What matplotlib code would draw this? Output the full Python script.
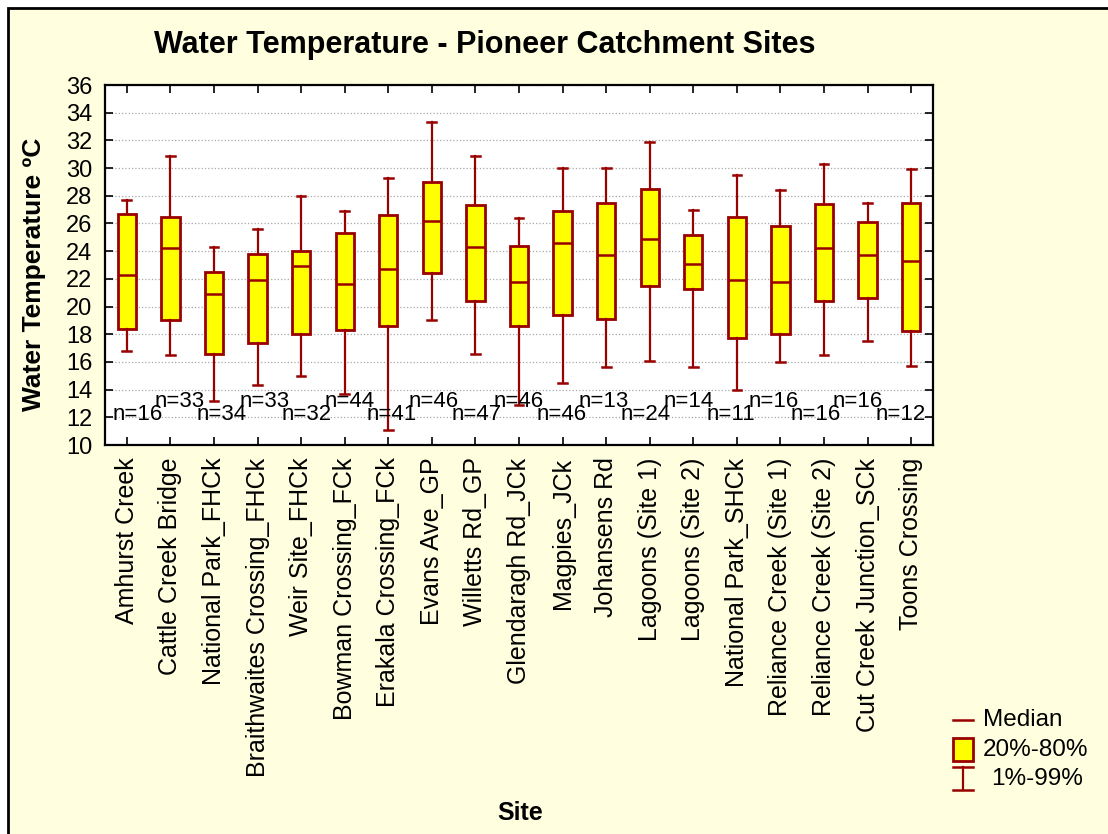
import matplotlib
matplotlib.use('Agg')
import matplotlib.pyplot as plt
from matplotlib.lines import Line2D
from matplotlib.patches import Rectangle

# Sites along the x axis
SITES = [
  'Amhurst Creek', 'Cattle Creek Bridge', 'National Park_FHCk',
  'Braithwaites Crossing_FHCk', 'Weir Site_FHCk', 'Bowman Crossing_FCk',
  'Erakala Crossing_FCk', 'Evans Ave_GP', 'Willetts Rd_GP',
  'Glendaragh Rd_JCk', 'Magpies_JCk', 'Johansens Rd', 'Lagoons (Site 1)',
  'Lagoons (Site 2)', 'National Park_SHCk', 'Reliance Creek (Site 1)',
  'Reliance Creek (Site 2)', 'Cut Creek Junction_SCk', 'Toons Crossing',
]

# Percentiles (deg C)
P01 = [16.8, 16.5, 13.2, 14.3, 15.0, 13.7, 11.1, 19.0, 16.6, 12.9,
       14.5, 15.6, 16.1, 15.6, 14.0, 16.0, 16.5, 17.5, 15.7]
P20 = [18.4, 19.0, 16.6, 17.4, 18.0, 18.3, 18.6, 22.4, 20.4, 18.6,
       19.4, 19.1, 21.5, 21.3, 17.7, 18.0, 20.4, 20.6, 18.2]
MEDIAN = [22.3, 24.2, 20.9, 21.9, 22.9, 21.6, 22.7, 26.2, 24.3, 21.8,
          24.6, 23.7, 24.9, 23.1, 21.9, 21.8, 24.2, 23.7, 23.3]
P80 = [26.7, 26.5, 22.5, 23.8, 24.0, 25.3, 26.6, 29.0, 27.3, 24.4,
       26.9, 27.5, 28.5, 25.2, 26.5, 25.8, 27.4, 26.1, 27.5]
P99 = [27.7, 30.9, 24.3, 25.6, 28.0, 26.9, 29.3, 33.3, 30.9, 26.4,
       30.0, 30.0, 31.9, 27.0, 29.5, 28.4, 30.3, 27.5, 29.9]

# Sample counts per site
N_COUNTS = [16, 33, 34, 33, 32, 44, 41, 46, 47, 46, 46, 13, 24, 14, 11, 16, 16, 16, 12]

Y_TICKS = list(range(10, 37, 2))

DARK_RED = '#990000'
CREAM = '#ffffe0'

plt.rcParams['font.family'] = ['Liberation Sans', 'DejaVu Sans']

W, H = 1108, 834
fig = plt.figure(figsize=(W / 100, H / 100), dpi=100, facecolor='white')

# cream panel with a black frame (cut off at right/bottom)
fig.add_artist(Rectangle((8 / W, -0.1), 1.2, 1 - 8 / H + 0.1, transform=fig.transFigure,
                         facecolor=CREAM, edgecolor='black', linewidth=2, zorder=0))

ax = fig.add_axes([105 / W, 1 - 445 / H, (933 - 105) / W, (445 - 85) / H])
ax.set_facecolor('white')

stats = []
for i in range(len(SITES)):
  stats.append({
    'med': MEDIAN[i], 'q1': P20[i], 'q3': P80[i],
    'whislo': P01[i], 'whishi': P99[i], 'fliers': [],
  })

pos = list(range(len(SITES)))
ax.bxp(stats, positions=pos, widths=0.42, patch_artist=True, showfliers=False,
       capwidths=0.2,
       boxprops=dict(facecolor='#ffff00', edgecolor=DARK_RED, linewidth=2),
       medianprops=dict(color=DARK_RED, linewidth=1.8),
       whiskerprops=dict(color=DARK_RED, linewidth=1.6),
       capprops=dict(color=DARK_RED, linewidth=1.8),
       zorder=3)

# n= labels, staggered on two levels
for i, n in enumerate(N_COUNTS):
  y = 13.15 if i % 2 else 12.2
  ax.text(i + 0.24 - 0.027 * i, y, 'n=' + str(n), ha='center', va='center',
          fontsize=16, zorder=4)

ax.set_xlim(-0.5, len(SITES) - 0.5)
ax.set_ylim(10, 36)
ax.set_yticks(Y_TICKS)
ax.set_xticks(pos)
ax.set_xticklabels(SITES, rotation=90, fontsize=18)
ax.tick_params(axis='y', labelsize=17)
ax.tick_params(direction='in', top=True, right=True, length=6, width=1.2, pad=9)
ax.yaxis.grid(True, linestyle=':', color='#a8a8a8', linewidth=0.9)
ax.set_axisbelow(True)
for sp in ax.spines.values():
  sp.set_linewidth(1.6)

fig.text(485 / W, 1 - 45 / H, 'Water Temperature - Pioneer Catchment Sites',
         ha='center', va='center', fontsize=22, fontweight='bold')
fig.text(34 / W, 1 - 274 / H, 'Water Temperature \u00baC', rotation=90,
         ha='center', va='center', fontsize=19, fontweight='bold')
fig.text(520 / W, 1 - 813 / H, 'Site', ha='center', va='center',
         fontsize=18, fontweight='bold')

# legend drawn by hand in figure pixels
def fx(x):
  return x / W

def fy(y):
  return 1 - y / H

fig.add_artist(Line2D([fx(953), fx(973)], [fy(720), fy(720)], color=DARK_RED,
                      linewidth=1.8, transform=fig.transFigure))
fig.add_artist(Rectangle((fx(953), fy(761)), 20 / W, 23 / H, transform=fig.transFigure,
                         facecolor='#ffff00', edgecolor=DARK_RED, linewidth=2))
fig.add_artist(Line2D([fx(963), fx(963)], [fy(767), fy(790)], color=DARK_RED,
                      linewidth=1.6, transform=fig.transFigure))
for yy in (767, 790):
  fig.add_artist(Line2D([fx(953), fx(973)], [fy(yy), fy(yy)], color=DARK_RED,
                        linewidth=1.8, transform=fig.transFigure))
fig.text(fx(983), fy(720), 'Median', ha='left', va='center', fontsize=17.5)
fig.text(fx(983), fy(750), '20%-80%', ha='left', va='center', fontsize=17.5)
fig.text(fx(991), fy(779), '1%-99%', ha='left', va='center', fontsize=17.5)

fig.savefig('out.png', dpi=100, facecolor=fig.get_facecolor())
